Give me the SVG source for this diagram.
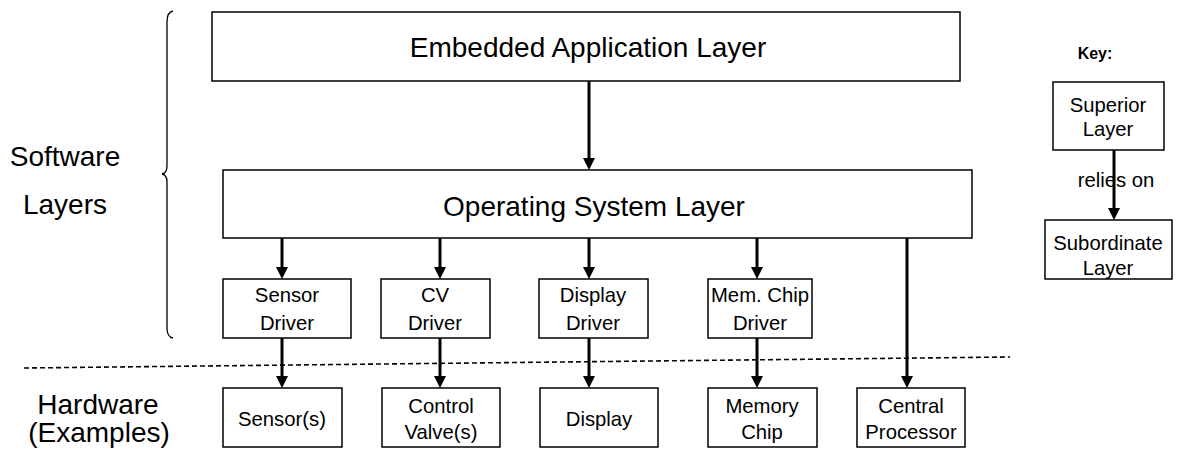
<svg xmlns="http://www.w3.org/2000/svg" width="1180" height="450" viewBox="0 0 1180 450">
<style>
.box{fill:#fff;stroke:#000;stroke-width:1.5}
.t{font-family:"Liberation Sans",Arial,sans-serif;fill:#000;text-anchor:middle}
.big{font-size:28px}
.sm{font-size:20.3px}
.arr{stroke:#000;stroke-width:3;fill:none;marker-end:url(#ah)}
</style>
<defs>
<marker id="ah" markerUnits="userSpaceOnUse" markerWidth="12" markerHeight="12" refX="0" refY="6" orient="auto" viewBox="0 0 12 12">
<path d="M0,0 L12,6 L0,12 Z" fill="#000"/>
</marker>
</defs>
<rect width="1180" height="450" fill="#fff"/>
<g id="labels">
<path d="M173,11 Q167,12 167,22 L167,166 Q167,173 162,174 Q167,175 167,182 L167,328 Q167,337 173,338" fill="none" stroke="#000" stroke-width="1.3"/>
<text class="t big" x="65" y="166">Software</text>
<text class="t big" x="65" y="214">Layers</text>
<text class="t big" x="98" y="414">Hardware</text>
<text class="t big" x="99" y="442">(Examples)</text>
<line x1="24" y1="368" x2="1010" y2="357" stroke="#000" stroke-width="1.6" stroke-dasharray="5,3"/>
</g>
<g id="connectors">
<line class="arr" x1="589" y1="81" x2="589" y2="158"/>
<line class="arr" x1="282" y1="238" x2="282" y2="267"/>
<line class="arr" x1="440" y1="238" x2="440" y2="267"/>
<line class="arr" x1="589" y1="238" x2="589" y2="267"/>
<line class="arr" x1="757" y1="238" x2="757" y2="267"/>
<line class="arr" x1="907" y1="238" x2="907" y2="376"/>
<line class="arr" x1="282" y1="338" x2="282" y2="376"/>
<line class="arr" x1="440" y1="338" x2="440" y2="376"/>
<line class="arr" x1="589" y1="338" x2="589" y2="376"/>
<line class="arr" x1="757" y1="338" x2="757" y2="376"/>
<line class="arr" x1="1114" y1="150" x2="1114" y2="208"/>
</g>
<g id="app">
<rect class="box" x="212" y="12" width="748" height="69"/>
<text class="t big" x="588" y="57">Embedded Application Layer</text>
</g>
<g id="os">
<rect class="box" x="223" y="170" width="749" height="68"/>
<text class="t big" x="594" y="216">Operating System Layer</text>
</g>
<g id="sensor-driver">
<rect class="box" x="223" y="279" width="128" height="59"/>
<text class="t sm" x="287" y="302">Sensor</text>
<text class="t sm" x="287" y="330">Driver</text>
</g>
<g id="cv-driver">
<rect class="box" x="381" y="279" width="109" height="59"/>
<text class="t sm" x="435" y="302">CV</text>
<text class="t sm" x="435" y="330">Driver</text>
</g>
<g id="display-driver">
<rect class="box" x="539" y="279" width="109" height="59"/>
<text class="t sm" x="593" y="302">Display</text>
<text class="t sm" x="593" y="330">Driver</text>
</g>
<g id="mem-driver">
<rect class="box" x="708" y="279" width="104" height="59"/>
<text class="t sm" x="760" y="302">Mem. Chip</text>
<text class="t sm" x="760" y="330">Driver</text>
</g>
<g id="sensors">
<rect class="box" x="223" y="388" width="119" height="59"/>
<text class="t sm" x="282" y="426">Sensor(s)</text>
</g>
<g id="valves">
<rect class="box" x="382" y="388" width="118" height="59"/>
<text class="t sm" x="441" y="413">Control</text>
<text class="t sm" x="441" y="439">Valve(s)</text>
</g>
<g id="display">
<rect class="box" x="540" y="388" width="118" height="59"/>
<text class="t sm" x="599" y="426">Display</text>
</g>
<g id="memory">
<rect class="box" x="708" y="388" width="109" height="59"/>
<text class="t sm" x="762" y="413">Memory</text>
<text class="t sm" x="762" y="439">Chip</text>
</g>
<g id="cpu">
<rect class="box" x="857" y="388" width="108" height="59"/>
<text class="t sm" x="911" y="413">Central</text>
<text class="t sm" x="911" y="439">Processor</text>
</g>
<g id="key">
<text class="t" x="1095" y="59" font-size="16" font-weight="bold">Key:</text>
<rect class="box" x="1053" y="82" width="111" height="68"/>
<text class="t sm" x="1108" y="112">Superior</text>
<text class="t sm" x="1108" y="136">Layer</text>
<text class="t sm" x="1116" y="187">relies on</text>
<rect class="box" x="1045" y="220" width="127" height="59"/>
<text class="t sm" x="1108" y="250">Subordinate</text>
<text class="t sm" x="1108" y="275">Layer</text>
</g>
</svg>
